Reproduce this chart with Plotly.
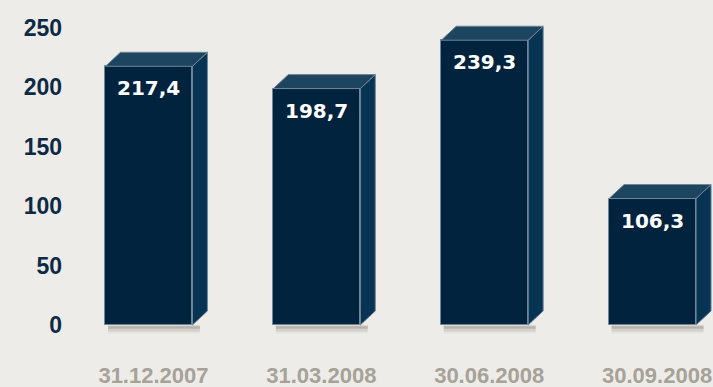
import plotly.graph_objects as go

categories = ["31.12.2007", "31.03.2008", "30.06.2008", "30.09.2008"]
values = [217.4, 198.7, 239.3, 106.3]
y_ticks = [0, 50, 100, 150, 200, 250]

BG = "#eeece8"
FRONT = "#02233d"
TOP = "#1d4560"
SIDE = "#073452"
EDGE = "#6f859a"
NAVY = "#0d2a45"
GREY = "#a6a298"
LABEL_FONT = "Liberation Sans, Arial"

W, H = 713, 387
ML, MR, MT, MB = 65, 0, 0, 40
XR = [-0.5, 3.36]
pw = W - ML - MR
ph = H - MT - MB
uy = 1.19                       # px per value unit
y0px = 325                      # pixel row of value 0
YR = [-(ph - y0px) / uy, y0px / uy]
ux = pw / (XR[1] - XR[0])       # px per x unit

bw = 0.518
dx = 15 / ux
dy = 14 / uy

xs = list(range(len(categories)))

fig = go.Figure()

# soft shadow under bars
for off, op in [(1.5, 0.26), (3, 0.20), (4.5, 0.14), (6, 0.08), (7.5, 0.04)]:
    for x in xs:
        fig.add_trace(go.Scatter(
            x=[x - bw / 2 + 0.015, x + bw / 2 + dx * 0.5], y=[-off / uy, -off / uy],
            mode="lines", line=dict(color=f"rgba(60,50,40,{op})", width=2),
            hoverinfo="skip", showlegend=False))

# front faces
fig.add_trace(go.Bar(
    x=xs, y=values, width=bw, marker=dict(color=FRONT, line=dict(color=EDGE, width=1)),
    hoverinfo="skip", showlegend=False))

# side and top faces
for x, v in zip(xs, values):
    r = x + bw / 2
    l = x - bw / 2
    fig.add_trace(go.Scatter(
        x=[r, r, r + dx, r + dx, r], y=[0, v, v + dy, dy, 0],
        fill="toself", fillcolor=SIDE, mode="lines",
        line=dict(color=EDGE, width=1), hoverinfo="skip", showlegend=False))
    fig.add_trace(go.Scatter(
        x=[l, l + dx, r + dx, r, l], y=[v, v + dy, v + dy, v, v],
        fill="toself", fillcolor=TOP, mode="lines",
        line=dict(color=EDGE, width=1), hoverinfo="skip", showlegend=False))

for x, v in zip(xs, values):
    fig.add_annotation(
        x=x, y=v, text=f"{v:.1f}".replace(".", ","), showarrow=False,
        yshift=-22, xanchor="center", yanchor="middle",
        font=dict(family="DejaVu Sans", size=20, color="white", weight="bold"))

fig.update_layout(
    width=W, height=H,
    margin=dict(l=ML, r=MR, t=MT, b=MB),
    paper_bgcolor=BG, plot_bgcolor=BG,
    bargap=0,
    xaxis=dict(range=XR, tickvals=[x + dx * 0.3 for x in xs], ticktext=categories,
               showgrid=False, zeroline=False, showline=False, ticks="",
               ticklabelstandoff=13,
               tickfont=dict(family=LABEL_FONT, size=22, color=GREY, weight="bold")),
    yaxis=dict(range=YR, tickvals=y_ticks, showgrid=False, zeroline=False,
               showline=False, ticks="", ticklabelstandoff=2,
               tickfont=dict(family=LABEL_FONT, size=23, color=NAVY, weight="bold")),
)

fig.write_html("out.html")
